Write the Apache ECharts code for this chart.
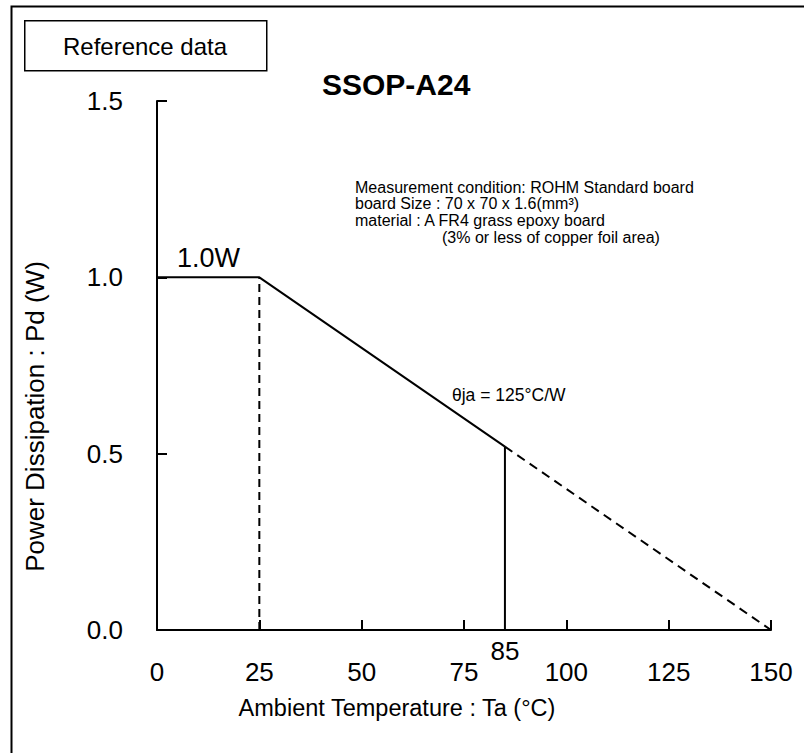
<!DOCTYPE html>
<html>
<head>
<meta charset="utf-8">
<script src="https://cdn.jsdelivr.net/npm/echarts@6/dist/echarts.min.js"></script>
<style>
html,body{margin:0;padding:0;background:#fff;}
#chart{width:804px;height:753px;}
</style>
</head>
<body>
<div id="chart"></div>
<script>
// ---- data ----
const titleText = 'SSOP-A24';
const xAxisName = 'Ambient Temperature : Ta (°C)';
const yAxisName = 'Power Dissipation : Pd (W)';
const xMin = 0, xMax = 150, xStep = 25;
const yMin = 0, yMax = 1.5, yStep = 0.5;
// derating curve: Ta (°C) vs Pd (W)
const curveTemps = [0, 25, 85];
const curvePower = [1.0, 1.0, 0.52];
// extension beyond the operating limit
const extTemps = [85, 150];
const extPower = [0.52, 0];
const kneeTemp = 25, kneePower = 1.0;
const limitTemp = 85, limitPower = 0.52;
const conditionLines = [
  'Measurement condition: ROHM Standard board',
  'board Size : 70 x 70 x 1.6(mm³)',
  'material : A FR4 grass epoxy board'
];
const conditionNote = '(3% or less of copper foil area)';
const thetaLabel = 'θja = 125°C/W';
const powerLabel = '1.0W';

const zip = (xs, ys) => xs.map((x, i) => [x, ys[i]]);
const FONT = 'Liberation Sans, Arial, Helvetica, sans-serif';
const chart = echarts.init(document.getElementById('chart'), null, {renderer: 'svg'});

const condFont = '16px ' + FONT;
const condY0 = 187, condStep = 16.7;
const condGraphics = conditionLines.map((t, i) => ({
  type: 'text', x: 355, y: condY0 + i * condStep,
  style: {text: t, font: condFont, fill: '#000', align: 'left', verticalAlign: 'middle'}
}));
condGraphics.push({
  type: 'text', x: 442, y: condY0 + 3 * condStep,
  style: {text: conditionNote, font: condFont, fill: '#000', align: 'left', verticalAlign: 'middle'}
});

const option = {
  backgroundColor: '#fff',
  animation: false,
  textStyle: {fontFamily: FONT, color: '#000'},
  title: {
    text: titleText, left: 317, top: 64,
    textStyle: {fontFamily: FONT, fontSize: 30, fontWeight: 'bold', color: '#000'}
  },
  grid: {left: 157, right: 33, top: 101, bottom: 123, containLabel: false},
  xAxis: {
    type: 'value', min: xMin, max: xMax, interval: xStep,
    name: xAxisName, nameLocation: 'middle', nameGap: 66,
    nameTextStyle: {fontFamily: FONT, fontSize: 23.5, color: '#000', padding: [0, 134, 0, 0]},
    axisLine: {show: true, onZero: false, lineStyle: {color: '#000', width: 2}},
    axisTick: {show: true, inside: true, length: 10, lineStyle: {color: '#000', width: 2}},
    axisLabel: {fontFamily: FONT, fontSize: 26, color: '#000', margin: 29},
    splitLine: {show: false}
  },
  yAxis: {
    type: 'value', min: yMin, max: yMax, interval: yStep,
    name: yAxisName, nameLocation: 'middle', nameGap: 109, nameRotate: 90,
    nameTextStyle: {fontFamily: FONT, fontSize: 26, color: '#000', padding: [0, 102, 0, 0]},
    axisLine: {show: true, lineStyle: {color: '#000', width: 2}},
    axisTick: {show: true, inside: true, length: 10, lineStyle: {color: '#000', width: 2}},
    axisLabel: {fontFamily: FONT, fontSize: 26, color: '#000', margin: 34,
      formatter: v => v.toFixed(1)},
    splitLine: {show: false}
  },
  graphic: [
    {type: 'rect', left: 9, top: 4, shape: {width: 820, height: 780},
      style: {fill: 'none', stroke: '#000', lineWidth: 2}, silent: true},
    {type: 'rect', left: 24, top: 20, shape: {width: 242, height: 50},
      style: {fill: '#fff', stroke: '#000', lineWidth: 1.5}, silent: true},
    {type: 'text', x: 145, y: 46,
      style: {text: 'Reference data', font: '24px ' + FONT, fill: '#000', align: 'center', verticalAlign: 'middle'}},
    ...condGraphics,
    {type: 'text', x: 452, y: 395,
      style: {text: thetaLabel, font: '17.5px ' + FONT, fill: '#000', align: 'left', verticalAlign: 'middle'}},
    {type: 'text', x: 177, y: 258,
      style: {text: powerLabel, font: '27px ' + FONT, fill: '#000', align: 'left', verticalAlign: 'middle'}}
  ],
  series: [
    {type: 'line', name: 'Pd', data: zip(curveTemps, curvePower), symbol: 'none',
      lineStyle: {color: '#000', width: 2}, z: 3},
    {type: 'line', name: 'ext', data: zip(extTemps, extPower), symbol: 'none',
      lineStyle: {color: '#000', width: 2, type: [9, 6]}, z: 3},
    {type: 'line', name: 'knee', data: [[kneeTemp, yMin], [kneeTemp, kneePower]], symbol: 'none',
      lineStyle: {color: '#000', width: 2, type: [8, 5]}, z: 3},
    {type: 'line', name: 'limit', data: [[limitTemp, yMin], [limitTemp, limitPower]], symbol: 'none',
      lineStyle: {color: '#000', width: 2}, z: 3},
    {type: 'scatter', name: 'limitLabel', data: [[limitTemp, yMin]], symbolSize: 0, silent: true,
      itemStyle: {opacity: 1, color: '#000'},
      label: {show: true, position: 'bottom', distance: 8, formatter: String(limitTemp),
        fontFamily: FONT, fontSize: 26, color: '#000', opacity: 1}}
  ]
};
chart.setOption(option);
</script>
</body>
</html>
